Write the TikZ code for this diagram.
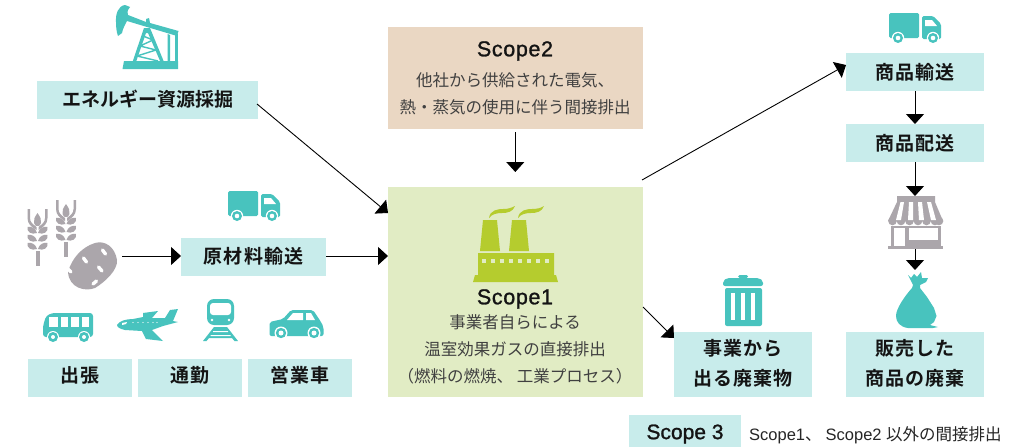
\documentclass[tikz,border=0pt]{standalone}
\usepackage{fontspec}
\usetikzlibrary{arrows.meta}
\newfontfamily\jpn{Noto Sans CJK JP}
\newfontfamily\jpb[LetterSpace=6]{Noto Sans CJK JP Bold}
\newfontfamily\jpc{Noto Sans CJK JP Bold}
\newfontfamily\lat{Liberation Sans}
\newfontfamily\latm[FakeBold=1.2,LetterSpace=3]{Liberation Sans}
\newfontfamily\latn[FakeBold=1.2]{Liberation Sans}
\definecolor{boxc}{HTML}{C8ECEB}
\definecolor{teal}{HTML}{48C3BE}
\definecolor{grayi}{HTML}{ABA6AB}
\definecolor{olive}{HTML}{B5CC2E}
\definecolor{sone}{HTML}{E1ECC4}
\definecolor{stwo}{HTML}{EAD7C3}
\definecolor{body}{HTML}{404040}
\newcommand{\lbox}[7]{%
 \node[fill=boxc,inner sep=0pt,outer sep=0pt,minimum width=#4pt,minimum height=#5pt] (#1) at (#2,#3) {};
 \node[boxlabel] (#1-text) at (#2,#6) {#7};}
\tikzset{
 boxlabel/.style={inner sep=0pt,align=center,font=\fontsize{19}{30}\selectfont\jpb,text=black!92},
 conn/.style={black,line width=0.9pt,-{Triangle[length=10pt,width=18pt]}},
 desc/.style={inner sep=0pt,text=body,font=\fontsize{16.5}{26}\selectfont\jpn},
 stitle/.style={inner sep=0pt,text=black!92,font=\fontsize{21.5}{24}\selectfont\latm},
 truck/.pic={
  \fill[teal,rounded corners=1.5pt] (0,0) rectangle (30,25);
  \fill[teal,rounded corners=1.5pt] (33,3)--(44,3)--(52,11)--(52,26)--(33,26)--cycle;
  \fill[white] (36,7)--(43,7)--(48,13)--(36,13)--cycle;
  \foreach \wx in {9,44}{
   \fill[white] (\wx,25) circle[radius=6.2pt];
   \fill[teal] (\wx,25) circle[radius=5pt];
   \fill[white] (\wx,25) circle[radius=2.3pt];}
 },
 wheat/.pic={
  \fill[grayi] (-2,42) rectangle (2,57);
  \fill[grayi] (0,4)..controls(3,8)and(4,11)..(3.5,14)..controls(3,17)and(1,17)..(0,17)..controls(-1,17)and(-3,17)..(-3.5,14)..controls(-4,11)and(-3,8)..(0,4)--cycle;
  \fill[grayi] (-10,0)--(-7.5,0)--(-7.5,9)..controls(-7.5,13)and(-5,15)..(-1,18)--(-1,21)..controls(-6,18)and(-10,15)..(-10,9)--cycle;
  \fill[grayi] (10,0)--(7.5,0)--(7.5,9)..controls(7.5,13)and(5,15)..(1,18)--(1,21)..controls(6,18)and(10,15)..(10,9)--cycle;
  \foreach \yy in {15,23,31}{
   \fill[grayi] (-.5,\yy+9)..controls(-2,\yy+4)and(-6,\yy+2)..(-10,\yy+3)..controls(-11,\yy+8)and(-6,\yy+11)..(-.5,\yy+9)--cycle;
   \fill[grayi] (.5,\yy+9)..controls(2,\yy+4)and(6,\yy+2)..(10,\yy+3)..controls(11,\yy+8)and(6,\yy+11)..(.5,\yy+9)--cycle;}
 }
}
\begin{document}
\begin{tikzpicture}[x=1pt,y=-1pt]
\useasboundingbox (0,0) rectangle (1036,447);
\fill[white] (0,0) rectangle (1036,447);
% coloured panels
\node[fill=stwo,minimum width=255pt,minimum height=102pt,inner sep=0pt,outer sep=0pt] (scope2) at (515.5,78) {};
\node[fill=sone,minimum width=255pt,minimum height=210pt,inner sep=0pt,outer sep=0pt] (scope1) at (515.5,292) {};
\node[stitle] (s2t) at (515,51) {Scope2};
\node[desc] (s2a) at (515,80) {他社から供給された電気、};
\node[desc] (s2b) at (515,107) {熱・蒸気の使用に伴う間接排出};
\node[stitle] (s1t) at (515,299) {Scope1};
\node[desc] (s1a) at (515,322) {事業者自らによる};
\node[desc] (s1b) at (515,349) {温室効果ガスの直接排出};
\node[desc] (s1c) at (515,376.5) {（燃料の燃焼、 工業プロセス）};
% label boxes
\lbox{energy}{147.5}{100}{221}{38}{99}{{\jpc エネルギー資源採掘}}
\lbox{material}{253.5}{257}{145}{38}{256}{原材料輸送}
\lbox{trip}{80}{378}{104}{38}{375}{出張}
\lbox{commute}{190}{378}{104}{38}{375}{通勤}
\lbox{fleet}{300}{378}{104}{38}{375}{営業車}
\lbox{ship}{915}{72}{138}{38}{72}{商品輸送}
\lbox{deliver}{915}{143}{138}{38}{143}{商品配送}
\lbox{waste}{743}{364.5}{138}{65}{363}{事業から\\出る廃棄物}
\lbox{sold}{915}{364.5}{138}{65}{363}{販売した\\商品の廃棄}
\node[fill=boxc,minimum width=112pt,minimum height=32pt,inner sep=0pt,outer sep=0pt] (s3box) at (685,431) {};
\node[inner sep=0pt,text=black!92,font=\fontsize{21}{24}\selectfont\latn] (s3title) at (685,434) {Scope 3};
\node[anchor=west,inner sep=0pt,text=black!85,font=\fontsize{16.5}{20}\selectfont\lat] (s3t) at (749,435) {Scope1{\jpn 、}\hspace{4pt}Scope2 {\jpn 以外の間接排出}};
% free ends of connectors
\coordinate (wheatend) at (122,256);
\coordinate (storetop) at (915,196);
\coordinate (storebot) at (915,247);
\coordinate (bagtop) at (915,270);
\coordinate (s2start) at (515.3,132);
\coordinate (s2arrow) at (515.3,172);
\coordinate (s1out) at (642,180);
\coordinate (s1waste) at (643,307);
\coordinate (wastetip) at (674,338);
\coordinate (shiptip) at (846,65);
\coordinate (s1tip) at (388,213);
\coordinate (energyout) at (257,104);
% connectors
\draw[conn] (energyout) -- (s1tip);
\draw[conn] (wheatend) -- (wheatend-|material.west);
\draw[conn] (material.east |- 0,256) -- (scope1.west |- 0,256);
\draw[conn] (s2start) -- (s2arrow);
\draw[conn] (s1out) -- (shiptip);
\draw[conn] (ship.south) -- (deliver.north);
\draw[conn] (deliver.south) -- (storetop);
\draw[conn] (storebot) -- (bagtop);
\draw[conn] (s1waste) -- (wastetip);
% pump jack
\fill[teal] (125,5)..controls(118,6)and(115.5,14)..(116,22)..controls(116,27)and(116.5,32)..(118,36)--(122,33)..controls(123,28)and(125,25)..(127,21)--(177,36)--(178.5,31)--(150,23)--(149,18)--(146,19)--(146,22)--(128,15)..controls(127,11)and(128,9)..(130,7)--cycle;
\fill[teal] (144,28)--(150,28)--(164,62)--(160.5,62)--(148,33)--(146,33)--(136,62)--(132.5,62)--cycle;
\fill[teal] (167.5,34)--(170,35)--(170,62)--(167.5,62)--cycle;
\fill[teal] (175,34)--(177.5,34)--(177.5,62)--(175,62)--cycle;
\fill[teal] (124,61)--(178,61)--(178,69)--(122.5,69)--cycle;
\draw[teal,line width=1.4pt] (143,36)--(153,40) (153,40)--(140,46) (140,46)--(156,50) (156,50)--(137,56) (137,56)--(158,61);
% trucks
\pic at (889,13) {truck};
\pic at (228,191) {truck};
% wheat and potato
\pic at (37.5,209) {wheat};
\pic at (66,200) {wheat};
\fill[white] (65.5,272)..controls(70,257)and(81,246)..(95,241)..controls(106,238)and(117,245)..(119,260)..controls(120,271)and(106,283)..(95,290)..controls(84,294)and(67,290)..(65.5,272)--cycle;
\fill[grayi] (68,272)..controls(72,258)and(82,247)..(95,243)..controls(105,240)and(115,247)..(117,260)..controls(118,270)and(105,282)..(95,288)..controls(85,292)and(69,288)..(68,272)--cycle;
\draw[white,line width=3.4pt,line cap=round] (83.5,258)--(86.5,262) (102.5,250)--(105.5,254) (98.5,267)--(102,271) (93,284)--(96.5,281) (67,268)--(71,272);
% bus
\fill[teal,rounded corners=3pt] (43,337)--(43,326)--(46,316)--(52,313)--(93,313)--(93,337)--cycle;
\foreach \xa/\xb in {49/58,61/68,71/79,82/89}{\fill[white] (\xa,317) rectangle (\xb,327);}
\foreach \wx in {53,84}{\fill[white] (\wx,337) circle[radius=6pt];\fill[teal] (\wx,337) circle[radius=5pt];\fill[white] (\wx,337) circle[radius=2pt];}
% plane
\fill[teal] (117,325)..controls(119,321)and(126,319)..(133,319)--(143,317)--(143,313)--(158,311)--(152,318)--(165,318)--(170,310)--(178,309)--(173,321)--(178,322)--(163,326)--(152,330)--(163,341)--(146,339)--(142,331)--(125,330)..controls(120,329)and(117,327)..(117,325)--cycle;
\fill[white] (122,323)--(127,322)--(126,324)--(122,325)--cycle;
\foreach \wx in {133,138,143,148,153,157}{\fill[white] (\wx,322.5) circle[radius=.7pt];}
% train
\fill[teal,rounded corners=7pt] (207,325)--(207,299)--(234,299)--(234,325)--cycle;
\fill[white,rounded corners=3pt] (210,315)--(210,303)--(231,303)--(231,315)--cycle;
\fill[white] (212,320) circle[radius=1.3pt] (229,320) circle[radius=1.3pt];
\fill[teal] (214,327)--(227,327)--(238,341)--(234.5,341)--(232,338)--(209,338)--(206.5,341)--(203,341)--cycle;
\fill[white] (213,331) rectangle (228,332) (210.5,335) rectangle (230.5,336);
% car
\fill[teal,rounded corners=2pt] (269.5,336)--(269.5,322)--(283,319)--(291,310)--(313,310)--(321,322)--(323.5,327)--(323.5,336)--cycle;
\fill[white] (287,320)--(293,313)--(303,313)--(303,320)--cycle;
\fill[white] (306,313)--(311,313)--(315,320)--(306,320)--cycle;
\foreach \wx in {281,314}{\fill[white] (\wx,333) circle[radius=6.5pt];\fill[teal] (\wx,333) circle[radius=5.2pt];\fill[white] (\wx,333) circle[radius=2.5pt];}
% factory
\fill[olive] (483,220)--(497,220)--(500,251)--(480,251)--cycle;
\fill[olive] (512,220)--(526,220)--(529,251)--(509,251)--cycle;
\fill[olive] (489,218)..controls(490,210)and(498,209)..(503,209)..controls(508,209)and(511,208)..(515,206)..controls(513,212)and(507,213)..(502,213)..controls(497,213)and(492,214)..(489,218)--cycle;
\fill[olive] (518,218)..controls(519,210)and(527,209)..(532,209)..controls(537,209)and(541,208)..(544,206)..controls(542,212)and(536,213)..(531,213)..controls(526,213)and(521,214)..(518,218)--cycle;
\fill[olive] (478,253)--(554,253)--(554,275)--(556,275)--(558,282)--(473,282)--(475,275)--(478,275)--cycle;
\foreach \i in {0,...,7}{\fill[sone] (484+9*\i-1.6,259.4) rectangle (484+9*\i+1.6,262.6);}
% trash
\fill[teal,rounded corners=1.5pt] (738,278)--(738,275)--(748,275)--(748,278)--cycle;
\fill[teal,rounded corners=2pt] (723,286)--(723,281)--(727,278)--(759,278)--(763,281)--(763,286)--cycle;
\fill[teal,rounded corners=2pt] (725,288)--(762,288)--(762,326)--(725,326)--cycle;
\foreach \xa in {731,741,751}{\fill[white] (\xa,293) rectangle (\xa+4,320);}
% store
\fill[grayi] (897,196)--(935,196)--(935,202)--(943,221)--(888,221)--(897,202)--cycle;
\foreach \sx in {892.5,901,909.5,918,926.5,935,939}{\fill[grayi] (\sx,221) circle[radius=4.3pt];}
\foreach \xa/\xb/\xc/\xd in {900.5/904/896/901,909/913/908/913,918/922/919/924,927/931/931/936}{\fill[white] (\xa,202)--(\xb,202)--(\xd,220)--(\xc,220)--cycle;}
\fill[grayi] (891,226) rectangle (941,246);
\fill[white] (893.5,228) rectangle (905,246);
\fill[white] (909,228) rectangle (938,240);
\fill[grayi] (888,245.5) rectangle (943,248.5);
% bag
\fill[teal] (908,275)--(911,278)--(914,274)--(917,277)--(921,272)--(922,278)--(928,278)--(926,282)--(920,285)--(920,288)--(927,297)--(934,308)--(936.5,316)--(934,322)--(930,325)--(938,327)--(933,328)--(908,328)..controls(900,327)and(896,322)..(896,316)..controls(896,309)and(904,297)..(912,288)--(913,285)--cycle;
\end{tikzpicture}
\end{document}
